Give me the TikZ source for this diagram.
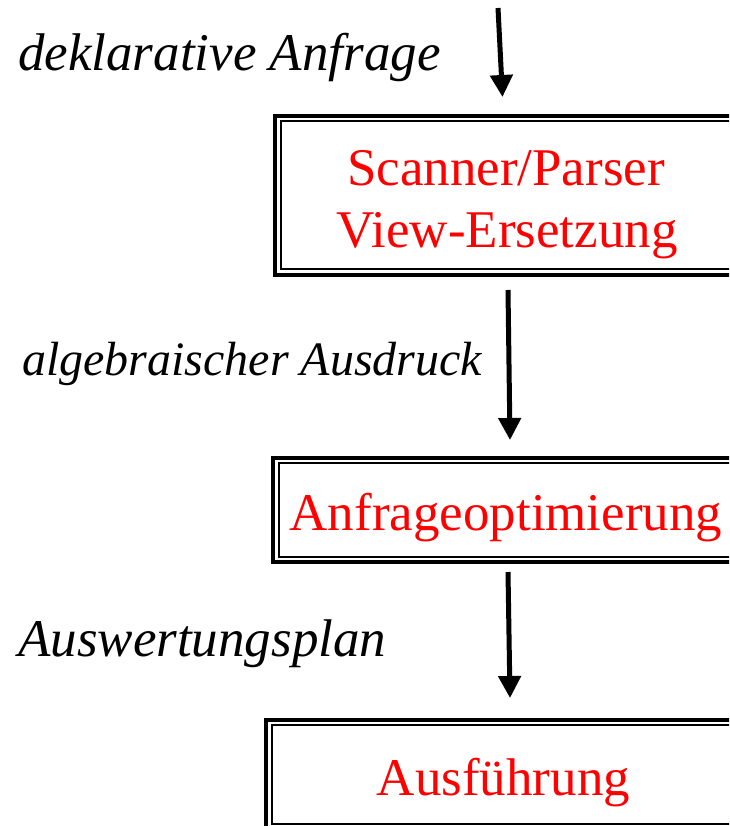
\documentclass[tikz,border=0pt]{standalone}
\usepackage{fontspec}
\setmainfont{Liberation Serif}
\usetikzlibrary{arrows.meta}
\definecolor{boxred}{RGB}{255,0,0}
\tikzset{
  boxframe/.style={draw=black, line width=4pt, inner sep=0pt, outer sep=0pt},
  innerframe/.style={draw=black, line width=2pt},
  boxtext/.style={text=boxred, font=\fontsize{53}{60}\selectfont, anchor=base, inner sep=0pt},
  lbl/.style={font=\fontsize{53}{60}\selectfont\itshape, anchor=base west, inner sep=0pt},
  flow/.style={line width=5pt, -{Triangle[length=22pt,width=22pt]}}
}
\begin{document}
\begin{tikzpicture}[x=1pt, y=-1pt]
\useasboundingbox (0,0) rectangle (729,826);
\clip (0,0) rectangle (729,826);
\fill[white] (0,0) rectangle (729,826);
% boxes
\node[boxframe, minimum width=470pt, minimum height=158.5pt] (b1) at (510,195.25) {};
\node[boxframe, minimum width=475pt, minimum height=104pt] (b2) at (510.2,509.5) {};
\node[boxframe, minimum width=480pt, minimum height=109pt] (b3) at (505.7,774.5) {};
\draw[innerframe] ([shift={(6pt,-5.5pt)}]b1.north west) rectangle ([shift={(-6pt,5.5pt)}]b1.south east);
\draw[innerframe] ([shift={(6pt,-5pt)}]b2.north west) rectangle ([shift={(-6pt,5pt)}]b2.south east);
\draw[innerframe] ([shift={(6pt,-5pt)}]b3.north west) rectangle ([shift={(-6pt,5pt)}]b3.south east);
% box texts
\node[boxtext] (t1a) at (506,186) {Scanner/Parser};
\node[boxtext] (t1b) at (507,247) {View-Ersetzung};
\node[boxtext] (t2) at (506,530) {Anfrageoptimierung};
\node[boxtext] (t3) at (503.5,795) {Ausführung};
% labels
\node[lbl] (l1) at (18,71) {deklarative Anfrage};
\node[lbl, font=\fontsize{48}{54}\selectfont\itshape] (l2) at (22,375) {algebraischer Ausdruck};
\node[lbl] (l3) at (18,656) {Auswertungsplan};
% arrows
\coordinate (a1s) at (498,8);
\coordinate (a1e) at (502.5,97);
\coordinate (a2s) at (508,290);
\coordinate (a2e) at (510,440);
\coordinate (a3s) at (508,572);
\coordinate (a3e) at (510,698);
\draw[flow] (a1s) -- (a1e);
\draw[flow] (a2s) -- (a2e);
\draw[flow] (a3s) -- (a3e);
\end{tikzpicture}
\end{document}
